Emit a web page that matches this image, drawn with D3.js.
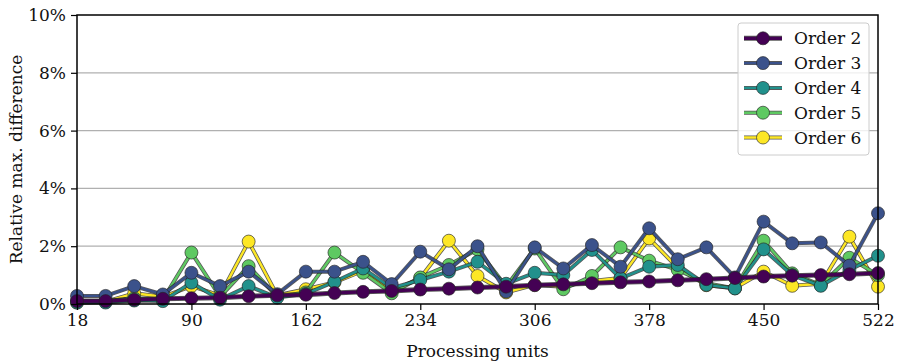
<!DOCTYPE html>
<html>
<head>
<meta charset="utf-8">
<script src="https://cdn.jsdelivr.net/npm/d3@7"></script>
<style>
  body { margin: 0; background: #fff; }
  svg text { font-family: "DejaVu Serif", serif; fill: #111; }
</style>
</head>
<body>
<div id="plot"></div>
<script>
const width = 899
const height = 363
const margin = { top: 15, right: 21, bottom: 59, left: 77 }

// processing units (x) and relative max difference in % per order
const units = [18, 36, 54, 72, 90, 108, 126, 144, 162, 180, 198, 216, 234, 252, 270,
               288, 306, 324, 342, 360, 378, 396, 414, 432, 450, 468, 486, 504, 522]
const xTicks = [18, 90, 162, 234, 306, 378, 450, 522]
const yTicks = [0, 2, 4, 6, 8, 10]

const order2 = [0.10, 0.10, 0.15, 0.18, 0.20, 0.22, 0.27, 0.30, 0.32, 0.38, 0.42, 0.45, 0.50, 0.53, 0.57,
                0.60, 0.65, 0.68, 0.72, 0.75, 0.78, 0.82, 0.86, 0.90, 0.95, 0.98, 1.00, 1.03, 1.07]
const order3 = [0.28, 0.28, 0.62, 0.33, 1.08, 0.62, 1.12, 0.34, 1.12, 1.12, 1.46, 0.69, 1.81, 1.20, 2.00,
                0.43, 1.96, 1.23, 2.04, 1.29, 2.62, 1.55, 1.96, 0.92, 2.85, 2.10, 2.13, 1.33, 3.14]
const order4 = [0.05, 0.05, 0.12, 0.10, 0.74, 0.15, 0.62, 0.22, 0.35, 0.77, 1.23, 0.55, 0.83, 1.12, 1.46,
                0.70, 1.08, 1.00, 1.87, 0.89, 1.29, 1.35, 0.66, 0.54, 1.89, 1.00, 0.63, 1.18, 1.67]
const order5 = [0.10, 0.10, 0.20, 0.15, 1.78, 0.25, 1.31, 0.25, 0.40, 1.78, 1.08, 0.37, 0.92, 1.35, 1.89,
                0.60, 1.92, 0.51, 0.97, 1.96, 1.50, 1.18, 0.72, 0.54, 2.19, 1.06, 0.65, 1.60, 1.00]
const order6 = [0.05, 0.08, 0.37, 0.25, 0.62, 0.30, 2.16, 0.30, 0.51, 0.75, 1.15, 0.45, 0.90, 2.19, 0.97,
                0.40, 0.66, 0.60, 0.80, 0.90, 2.27, 1.25, 0.65, 0.55, 1.12, 0.63, 0.70, 2.33, 0.60]

const seriesNames = ["Order 2", "Order 3", "Order 4", "Order 5", "Order 6"]
const seriesValues = [order2, order3, order4, order5, order6]
const seriesColors = ["#440154", "#3b528b", "#21918c", "#5ec962", "#fde725"]

const fontSize = "17px"

const svg = d3.select("#plot")
  .append("svg")
    .attr("width", width)
    .attr("height", height)

const x = d3.scaleLinear()
  .domain([18, 522])
  .range([margin.left, width - margin.right])

const y = d3.scaleLinear()
  .domain([0, 10])
  .range([height - margin.bottom, margin.top])

// grid lines
svg.append("g")
  .selectAll("line")
  .data(yTicks.slice(1, -1))
  .join("line")
    .attr("x1", x(18)).attr("x2", x(522))
    .attr("y1", d => y(d)).attr("y2", d => y(d))
    .attr("stroke", "#b0b0b0")
    .attr("stroke-width", 1.2)

// series, drawn last-to-first so Order 2 sits on top
const line = d3.line()
  .x((d, i) => x(units[i]))
  .y(d => y(d))

const order = d3.range(seriesNames.length).reverse()
order.forEach(k => {
  const g = svg.append("g")
  g.append("path")
    .datum(seriesValues[k])
    .attr("fill", "none")
    .attr("stroke", "#222")
    .attr("stroke-opacity", 0.75)
    .attr("stroke-width", k === 0 ? 5 : 4)
    .attr("stroke-linejoin", "round")
    .attr("d", line)
  g.append("path")
    .datum(seriesValues[k])
    .attr("fill", "none")
    .attr("stroke", seriesColors[k])
    .attr("stroke-width", k === 0 ? 3.2 : 2.4)
    .attr("stroke-linejoin", "round")
    .attr("d", line)
  g.selectAll("circle")
    .data(seriesValues[k])
    .join("circle")
      .attr("cx", (d, i) => x(units[i]))
      .attr("cy", d => y(d))
      .attr("r", 6.5)
      .attr("fill", seriesColors[k])
      .attr("stroke", "#222")
      .attr("stroke-opacity", 0.8)
      .attr("stroke-width", 0.8)
})

// axes
const xAxis = svg.append("g")
  .attr("transform", `translate(0, ${height - margin.bottom})`)
  .call(d3.axisBottom(x).tickValues(xTicks).tickSize(6).tickPadding(4).tickSizeOuter(0))
const yAxis = svg.append("g")
  .attr("transform", `translate(${margin.left}, 0)`)
  .call(d3.axisLeft(y).tickValues(yTicks).tickFormat(d => d + "%").tickSize(6).tickPadding(5).tickSizeOuter(0))

;[xAxis, yAxis].forEach(a => {
  a.selectAll("text").style("font-size", fontSize).style("font-family", "DejaVu Serif").attr("fill", "#111")
  a.selectAll("line").attr("stroke", "#000").attr("stroke-width", 1.2)
  a.select(".domain").remove()
})

// frame
svg.append("rect")
  .attr("x", x(18)).attr("y", y(10))
  .attr("width", x(522) - x(18)).attr("height", y(0) - y(10))
  .attr("fill", "none")
  .attr("stroke", "#000")
  .attr("stroke-width", 1.5)

// axis labels
svg.append("text")
  .attr("x", (x(18) + x(522)) / 2)
  .attr("y", 357)
  .attr("text-anchor", "middle")
  .style("font-size", fontSize)
  .text("Processing units")

svg.append("text")
  .attr("transform", `translate(22, ${(y(0) + y(10)) / 2}) rotate(-90)`)
  .attr("text-anchor", "middle")
  .style("font-size", fontSize)
  .text("Relative max. difference")

// legend
const legend = svg.append("g").attr("transform", "translate(738, 23)")
legend.append("rect")
  .attr("width", 131).attr("height", 132)
  .attr("rx", 3)
  .attr("fill", "#fff").attr("fill-opacity", 0.8)
  .attr("stroke", "#ccc")

seriesNames.forEach((name, k) => {
  const ly = 15.3 + k * 24.8
  legend.append("line")
    .attr("x1", 6).attr("x2", 44).attr("y1", ly).attr("y2", ly)
    .attr("stroke", "#222").attr("stroke-opacity", 0.75).attr("stroke-width", k === 0 ? 5 : 4)
  legend.append("line")
    .attr("x1", 6).attr("x2", 44).attr("y1", ly).attr("y2", ly)
    .attr("stroke", seriesColors[k]).attr("stroke-width", k === 0 ? 3.2 : 2.4)
  legend.append("circle")
    .attr("cx", 25).attr("cy", ly).attr("r", 6.5)
    .attr("fill", seriesColors[k])
    .attr("stroke", "#222").attr("stroke-opacity", 0.8).attr("stroke-width", 0.8)
  legend.append("text")
    .attr("x", 56).attr("y", ly + 6)
    .style("font-size", fontSize)
    .text(name)
})
</script>
</body>
</html>
